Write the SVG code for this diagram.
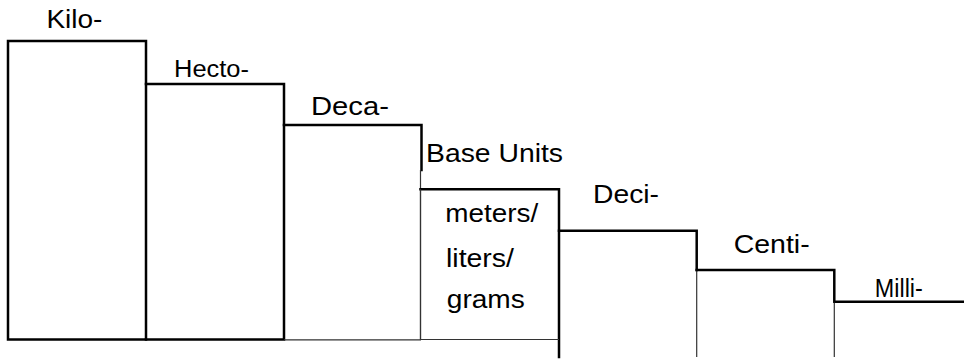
<svg xmlns="http://www.w3.org/2000/svg" width="964" height="361" viewBox="0 0 964 361">
<style>
  .t{font-family:"Liberation Sans",Arial,sans-serif;font-size:25.6px;fill:#000}
  .thick{fill:none;stroke:#000;stroke-width:2.5;stroke-linecap:square}
  .thin{fill:none;stroke:#333;stroke-width:1.2}
</style>
<rect width="964" height="361" fill="#fff"/>
<g id="kilo">
  <rect class="thick" x="8" y="41" width="138" height="298.5"/>
  <text class="t" x="46.4" y="28.3" textLength="56" lengthAdjust="spacingAndGlyphs">Kilo-</text>
</g>
<g id="hecto">
  <path class="thick" d="M146 84 H284 V339.5 H146"/>
  <text class="t" x="174" y="77" style="font-size:24.3px" textLength="75" lengthAdjust="spacingAndGlyphs">Hecto-</text>
</g>
<g id="deca">
  <path class="thick" d="M284 125 H421.5 V170"/>
  <path class="thin" d="M420.5 170 V339.5 M284 339.8 H421"/>
  <text class="t" x="311" y="115" textLength="78" lengthAdjust="spacingAndGlyphs">Deca-</text>
</g>
<g id="base">
  <path class="thick" d="M420.5 189.3 H559 V357"/>
  <path class="thin" d="M420.5 189.3 V339.5 H559"/>
  <text class="t" x="426" y="162" textLength="137" lengthAdjust="spacingAndGlyphs">Base Units</text>
  <text class="t" x="445.3" y="222" style="font-size:26.5px" textLength="93" lengthAdjust="spacingAndGlyphs">meters/</text>
  <text class="t" x="446" y="267" style="font-size:26.5px" textLength="68" lengthAdjust="spacingAndGlyphs">liters/</text>
  <text class="t" x="446.8" y="308" style="font-size:26.5px" textLength="78" lengthAdjust="spacingAndGlyphs">grams</text>
</g>
<g id="deci">
  <path class="thick" d="M559 230.7 H696.7 V270"/>
  <path class="thin" d="M696.7 270 V357"/>
  <text class="t" x="593" y="203" textLength="66" lengthAdjust="spacingAndGlyphs">Deci-</text>
</g>
<g id="centi">
  <path class="thick" d="M696.7 270 H834.3 V301.7"/>
  <path class="thin" d="M834.3 301.7 V357"/>
  <text class="t" x="733.7" y="253.3" textLength="76" lengthAdjust="spacingAndGlyphs">Centi-</text>
</g>
<g id="milli">
  <path class="thick" d="M834.3 301.7 H964" style="stroke-linecap:butt"/>
  <text class="t" x="874.8" y="297" textLength="48" lengthAdjust="spacingAndGlyphs">Milli-</text>
</g>
<g id="connectors"></g>
</svg>
